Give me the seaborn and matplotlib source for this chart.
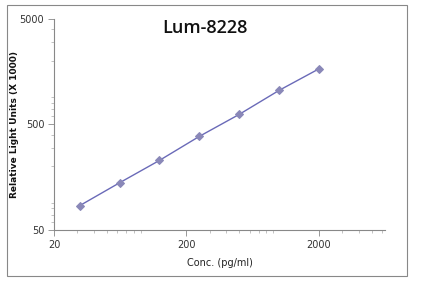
import matplotlib
matplotlib.use("Agg")
import matplotlib.pyplot as plt
import matplotlib.ticker as mticker
from matplotlib.patches import Rectangle
import seaborn as sns
import pandas as pd

conc = [31.25, 62.5, 125, 250, 500, 1000, 2000]
rlu = [85, 140, 228, 385, 622, 1050, 1680]
xticks = [20, 200, 2000]
yticks = [50, 500, 5000]

sns.set_style("white")
plt.rcParams['font.family'] = ['DejaVu Sans']

df = pd.DataFrame({"conc": conc, "rlu": rlu})
fig = plt.figure(figsize=(4.29, 2.85), dpi=100)
ax = fig.add_axes([0.1259, 0.193, 0.7715, 0.741])
sns.lineplot(data=df, x="conc", y="rlu", ax=ax, color="#6a6ab8", lw=1.0,
             marker="D", markersize=4.5, markerfacecolor="#8a88b8",
             markeredgecolor="#8a88b8")
ax.set_xscale("log")
ax.set_yscale("log")
ax.set_xlim(20, 6300)
ax.set_ylim(50, 5000)
ax.xaxis.set_major_locator(mticker.FixedLocator(xticks))
ax.yaxis.set_major_locator(mticker.FixedLocator(yticks))
ax.xaxis.set_major_formatter(mticker.FixedFormatter([str(v) for v in xticks]))
ax.yaxis.set_major_formatter(mticker.FixedFormatter([str(v) for v in yticks]))
ax.xaxis.set_minor_locator(mticker.LogLocator(base=10, subs=range(2, 10)))
ax.yaxis.set_minor_locator(mticker.LogLocator(base=10, subs=range(2, 10)))
ax.xaxis.set_minor_formatter(mticker.NullFormatter())
ax.yaxis.set_minor_formatter(mticker.NullFormatter())
for s in ["top", "right"]:
    ax.spines[s].set_visible(False)
for s in ["left", "bottom"]:
    ax.spines[s].set_color("#888888")
    ax.spines[s].set_linewidth(0.8)
ax.tick_params(which="both", bottom=True, left=True)
ax.tick_params(which="major", direction="out", length=4, width=0.6, color="#888888",
               labelsize=7, labelcolor="#333333", pad=3)
ax.tick_params(which="minor", direction="out", length=2, width=0.5, color="#aaaaaa")
ax.set_xlabel("Conc. (pg/ml)", fontsize=7, color="#222222", labelpad=6)
ax.set_ylabel("Relative Light Units (X 1000)", fontsize=6.5, fontweight="bold",
              color="#111111")
ax.yaxis.set_label_coords(-0.106, 0.5)
ax.text(0.456, 0.956, "Lum-8228", transform=ax.transAxes, fontsize=13,
        family="Open Sans", fontweight="semibold", color="#111111",
        ha="center", va="center")
fig.add_artist(Rectangle((0.0163, 0.0316), 0.9324, 0.9504, transform=fig.transFigure,
                         fill=False, edgecolor="#888888", lw=0.8))
fig.savefig("out.png", dpi=100)
